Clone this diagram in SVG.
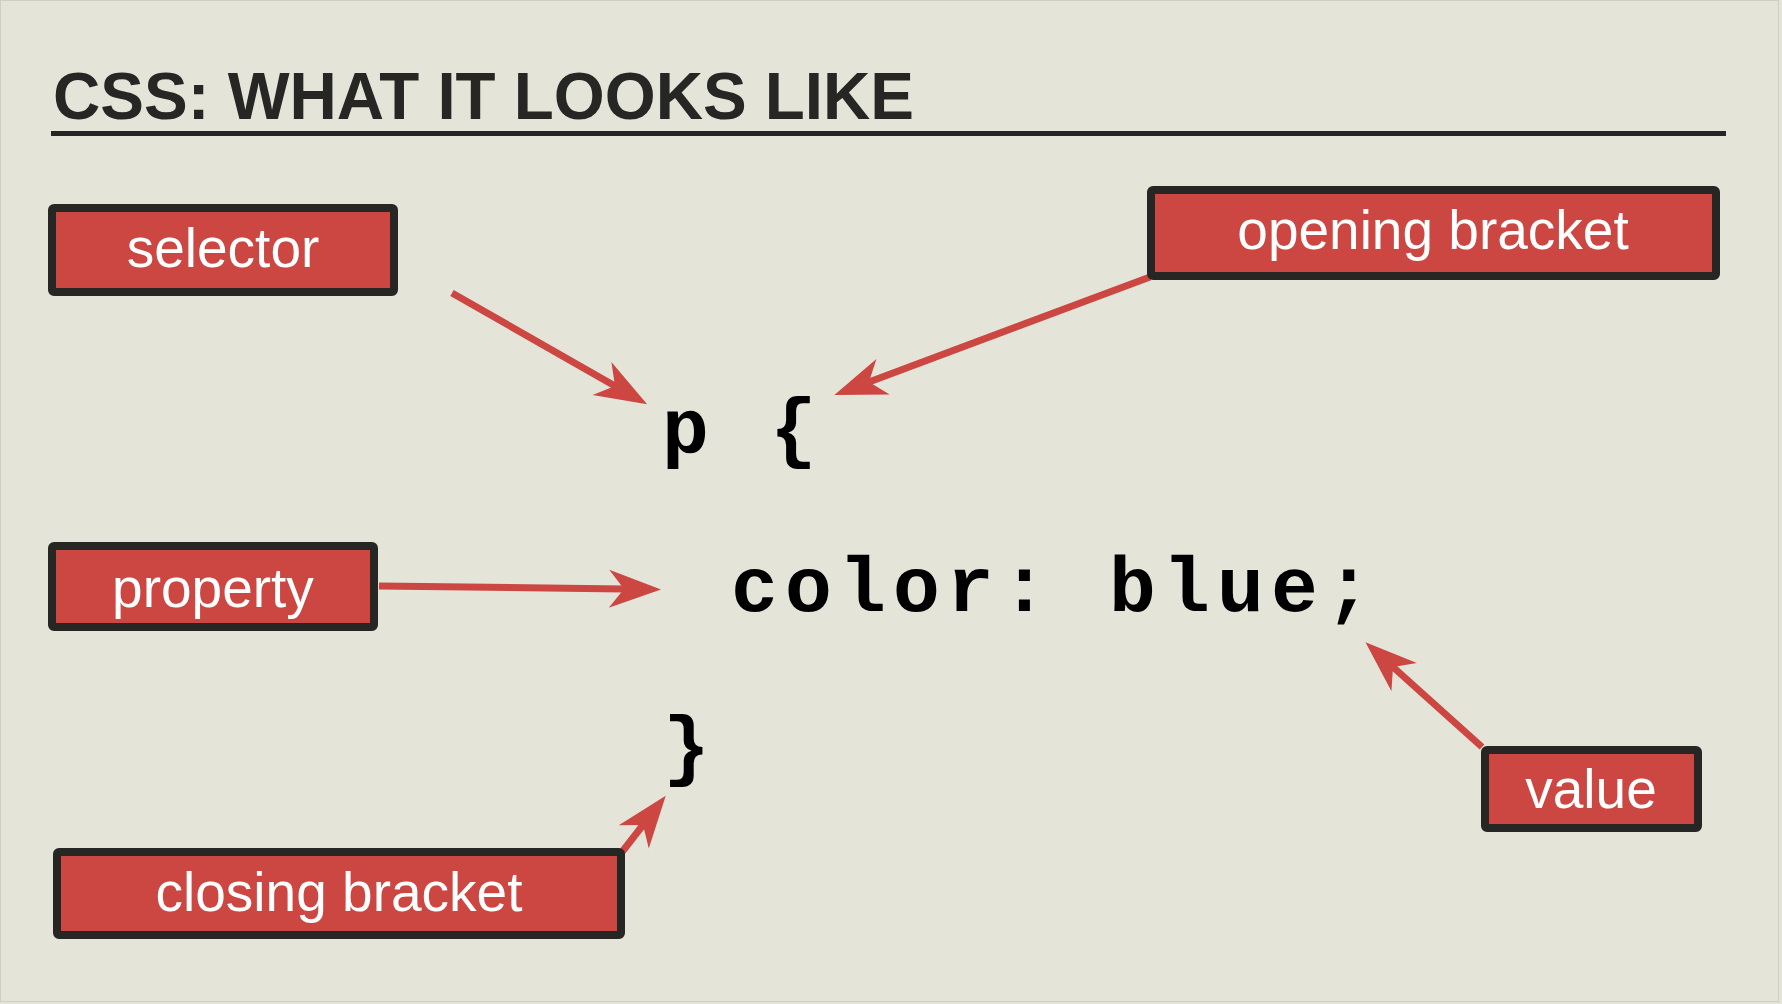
<svg xmlns="http://www.w3.org/2000/svg" width="1782" height="1004" viewBox="0 0 1782 1004">
  <style>
    .box { fill: #cc4642; stroke: #262624; stroke-width: 8; stroke-linejoin: round; }
    .lbl { font-family: "Liberation Sans", Arial, sans-serif; font-size: 55px; fill: #ffffff; text-anchor: middle; }
    .code { font-family: "Liberation Mono", "Courier New", monospace; font-weight: bold; font-size: 78px; letter-spacing: 7.2px; fill: #000000; }
    .conn { stroke: #cc4642; stroke-width: 7; fill: none; marker-end: url(#head); }
  </style>
  <defs>
    <marker id="head" markerUnits="userSpaceOnUse" orient="auto" refX="0" refY="0" markerWidth="120" markerHeight="120" viewBox="-60 -60 120 120" overflow="visible">
      <path d="M37,0 L-15,-19 L0,0 L-15,19 Z" fill="#cc4642"/>
    </marker>
  </defs>
  <rect x="0" y="0" width="1782" height="1004" fill="#e4e4d9"/>
  <rect x="0.5" y="0.5" width="1778" height="1001" fill="none" stroke="#cfcfc6" stroke-width="1"/>

  <g id="title">
    <text x="53" y="119" font-family="Liberation Sans, Arial, sans-serif" font-weight="bold" font-size="67" fill="#262624" textLength="861" lengthAdjust="spacingAndGlyphs">CSS: WHAT IT LOOKS LIKE</text>
    <rect x="51" y="131" width="1675" height="5" fill="#262624"/>
  </g>

  <g id="code">
    <text class="code" x="662" y="453">p {</text>
    <text class="code" x="731" y="611">color: blue;</text>
    <text class="code" x="663" y="771">}</text>
  </g>

  <g id="connectors">
    <line class="conn" x1="452" y1="293" x2="615" y2="386"/>
    <line class="conn" x1="1150" y1="277" x2="869" y2="382"/>
    <line class="conn" x1="379" y1="586" x2="624" y2="589"/>
    <line class="conn" x1="1482" y1="747" x2="1393" y2="667"/>
    <line class="conn" x1="622" y1="852" x2="643" y2="825"/>
  </g>

  <g id="selector">
    <rect class="box" x="52" y="208" width="342" height="84" rx="2"/>
    <text class="lbl" x="223" y="267">selector</text>
  </g>
  <g id="opening-bracket">
    <rect class="box" x="1151" y="190" width="565" height="86" rx="2"/>
    <text class="lbl" x="1433" y="249">opening bracket</text>
  </g>
  <g id="property">
    <rect class="box" x="52" y="546" width="322" height="81" rx="2"/>
    <text class="lbl" x="213" y="607">property</text>
  </g>
  <g id="value">
    <rect class="box" x="1485" y="750" width="213" height="78" rx="2"/>
    <text class="lbl" x="1591" y="808">value</text>
  </g>
  <g id="closing-bracket">
    <rect class="box" x="57" y="852" width="564" height="83" rx="2"/>
    <text class="lbl" x="339" y="911">closing bracket</text>
  </g>
</svg>
